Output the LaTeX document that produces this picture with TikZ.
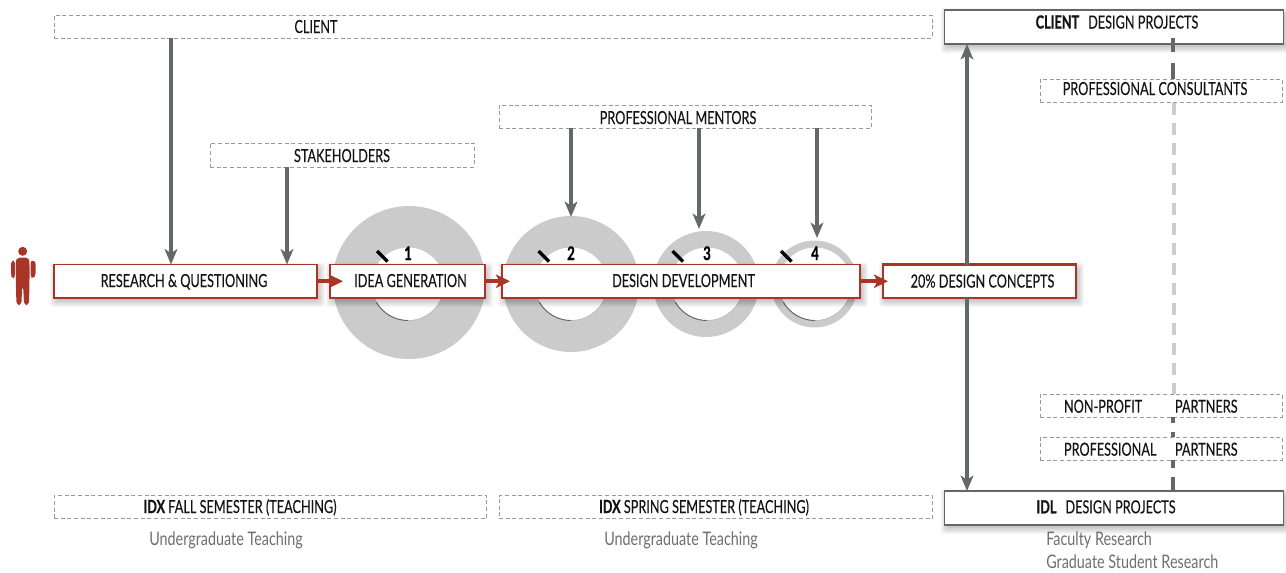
\documentclass[tikz,border=0pt]{standalone}
\usepackage{fontspec}
\setmainfont[FakeStretch=0.705,FakeBold=0.25,BoldFeatures={FakeBold=0.9}]{Lato}
\newfontfamily\notefont[FakeStretch=0.77]{Lato}
\usetikzlibrary{arrows.meta,calc}
\definecolor{brick}{HTML}{A93526}
\definecolor{arrowgray}{HTML}{666769}
\definecolor{ringgray}{HTML}{CBCBCB}
\definecolor{dashgray}{HTML}{9A9A9A}
\definecolor{lightdash}{HTML}{CCCCCC}
\definecolor{notegray}{HTML}{6E6E6E}
\tikzset{
  bx/.style={rectangle,inner sep=0pt,outer sep=0pt,anchor=north west},
  redbox/.style={bx,draw=brick,fill=white,line width=1.3pt},
  strongbox/.style={redbox,line width=2pt},
  graybox/.style={bx,draw=black!60,fill=white,line width=1pt},
  dashbox/.style={bx,draw=dashgray,dash pattern=on 3pt off 2pt,line width=.7pt},
  txt/.style={inner sep=0pt,outer sep=0pt,anchor=base,font=\fontsize{13.5}{15}\selectfont,text=black!92},
  grayarrow/.style={draw=arrowgray,line width=3.3pt,-{Stealth[length=11.5pt,width=9.5pt,inset=3pt]}},
  redarrow/.style={draw=brick,line width=2.8pt,-{Stealth[length=10.5pt,width=10pt,inset=2.5pt]}},
  ring/.style={fill=ringgray,even odd rule},
  tick/.style={draw=black,line width=2.4pt},
  ringnum/.style={inner sep=0pt,anchor=base,font=\fontsize{14}{15}\bfseries\selectfont},
  note/.style={inner sep=0pt,anchor=base west,font=\notefont\fontsize{14}{15}\selectfont,text=notegray},
  darkdash/.style={draw=arrowgray,line width=3pt},
  lightd/.style={draw=lightdash,line width=2.8pt,dash pattern=on 9pt off 6pt},
}
\newcommand{\softshade}[4]{%
  \foreach \k in {-1,...,6}{
    \fill[black,fill opacity=.03,rounded corners=2pt]
      ({#1+2-\k},{#2+4-\k}) rectangle ({#1+#3+2+\k},{#2+#4+3+\k});
  }}
\newcommand{\bxat}[5]{\node[#1,minimum width=#4*.75pt,minimum height=#5*.75pt] at (#2,#3)}
\begin{document}
\begin{tikzpicture}[x=.75pt,y=-.75pt]
\useasboundingbox (0,0) rectangle (1286,572);
% rings
\foreach \n/\cx/\oy/\r/\tx/\nx in {1/409/282.5/76.5/377/408,2/571/284/68/538.5/571,3/706/284/53/672.5/707,4/814.5/284/43.5/781/815}{
  \fill[ring] (\cx,\oy) circle[radius=\r] (\nx,284) circle[radius=36.5];
  \draw[black!30,line width=.4pt] (\nx+36.5,284) arc[start angle=0,end angle=180,radius=36.5];
  \draw[black!60,line width=.7pt] (\nx,320.5) arc[start angle=90,end angle=150,radius=36.5];
  \draw[tick] (\tx,251) -- ++(10.5,10.5);
  \node[ringnum] (num\n) at (\nx,260) {\n};
}
% person
\fill[brick] (22.7,251.3) circle[radius=4.5];
\fill[brick,rounded corners=2.5pt] (17,257.5) -- (28.5,257.5) -- (29.5,262) -- (29.5,282) -- (29,305) -- (24,305) -- (23.2,286) -- (22.2,286) -- (21.4,305) -- (16.5,305) -- (15.8,282) -- (15.8,262) -- cycle;
\fill[brick,rounded corners=2pt] (11,261) -- (15,260.5) -- (15,277) -- (13,278) -- (11,276) -- cycle;
\fill[brick,rounded corners=2pt] (30.5,260.5) -- (35.5,261) -- (35.5,276) -- (33,278) -- (30.5,277) -- cycle;
% dashed boxes
\bxat{dashbox}{54}{15}{878}{23} (client) {};
\bxat{dashbox}{210}{143}{264}{24} (stake) {};
\bxat{dashbox}{499}{105}{372}{23} (mentors) {};
\bxat{dashbox}{54}{495.5}{432.5}{23} (fall) {};
\bxat{dashbox}{499}{495.5}{433.5}{23} (spring) {};
\node[txt] (clientT) at (316,33) {CLIENT};
\node[txt] (stakeT) at (342,162) {STAKEHOLDERS};
\node[txt] (mentorsT) at (678,124) {PROFESSIONAL MENTORS};
\node[txt] (fallT) at (240,513) {\textbf{IDX} FALL SEMESTER (TEACHING)};
\node[txt] (springT) at (704,513) {\textbf{IDX} SPRING SEMESTER (TEACHING)};
% column coords
\coordinate (xa) at (171,0);
\coordinate (xb) at (287,0);
\coordinate (xc) at (571,0);
\coordinate (xd) at (699,0);
\coordinate (xe) at (817,0);
\coordinate (xf) at (967,0);
\coordinate (xg) at (1173,0);
\coordinate (xh) at (1174,0);
\coordinate (ya) at (0,217);
\coordinate (yb) at (0,229);
\coordinate (yc) at (0,238);
\coordinate (d1a) at (0,38);\coordinate (d1b) at (0,52);
\coordinate (d2a) at (0,63);
\coordinate (l1a) at (0,103);
% right hand boxes
\softshade{944.5}{10}{339}{34}
\softshade{944.5}{491}{339}{34}
\bxat{graybox}{944.5}{10}{339}{34} (cp) {};
\bxat{graybox}{944.5}{491}{339}{34} (ip) {};
\node[txt] (cpT) at (1117,28.5) {\textbf{CLIENT}\hspace{.5em}DESIGN PROJECTS};
\node[txt] (ipT) at (1106,513.3) {\textbf{IDL}\hspace{.5em}DESIGN PROJECTS};
\bxat{dashbox}{1040}{79}{242}{23} (cons) {};
\bxat{dashbox}{1040}{394}{242}{23} (np) {};
\bxat{dashbox}{1040}{437}{242}{23} (pp) {};
\node[txt] (consT) at (1155,95) {PROFESSIONAL CONSULTANTS};
\node[txt,anchor=base west] (nptext) at (1064,412.7) {NON-PROFIT};
\node[txt,anchor=base west] (nppart) at (1175,412.7) {PARTNERS};
\node[txt,anchor=base west] (pptext) at (1064,455.7) {PROFESSIONAL};
\node[txt,anchor=base west] (pppart) at (1175,455.7) {PARTNERS};
% main flow
\softshade{54}{264.5}{263}{33.5}
\softshade{330}{264.5}{155}{33.5}
\softshade{502}{264.5}{358}{33.5}
\softshade{883}{264.5}{193}{33.5}
\bxat{redbox}{54}{264.5}{263}{33.5} (rq) {};
\bxat{redbox}{330}{264.5}{155}{33.5} (idea) {};
\bxat{redbox}{502}{264.5}{358}{33.5} (dev) {};
\bxat{strongbox}{883}{264.5}{193}{33.5} (conc) {};
\node[txt] (rqT) at (184,287) {RESEARCH \& QUESTIONING};
\node[txt] (ideaT) at (410.5,287) {IDEA GENERATION};
\node[txt] (devT) at (683.5,287) {DESIGN DEVELOPMENT};
\node[txt] (concT) at (982.5,287.5) {20\% DESIGN CONCEPTS};
% connectors
\draw[grayarrow] (xa |- client.south) -- (xa |- rq.north);
\draw[grayarrow] (xb |- stake.south) -- (xb |- rq.north);
\draw[grayarrow] (xc |- mentors.south) -- (xc |- ya);
\draw[grayarrow] (xd |- mentors.south) -- (xd |- yb);
\draw[grayarrow] (xe |- mentors.south) -- (xe |- yc);
\draw[grayarrow] (xf |- conc.north) -- (xf |- cp.south);
\draw[grayarrow] (xf |- conc.south) -- (xf |- ip.north);
\draw[redarrow] (rq.east) -- (idea.west) -- ++(13,0);
\draw[redarrow] (idea.east) -- (dev.west) -- ++(8,0);
\draw[redarrow] (dev.east) -- (conc.west) -- ++(5,0);
% centre dashed spine
\draw[darkdash] (xg |- d1a) -- (xg |- d1b);
\draw[darkdash] (xg |- d2a) -- (xg |- cons.north);
\draw[lightd] (xh |- l1a) -- (xh |- np.north);
\draw[darkdash,line width=2.6pt] (xg |- np.south) -- ++(0,6);
\draw[darkdash,line width=2.6pt] (xg |- pp.north) -- ++(0,-5);
\draw[darkdash,line width=2.6pt] (xg |- pp.south) -- ++(0,8);
\draw[darkdash] (xg |- ip.north) -- ++(0,-14);
% captions
\node[note] (u1) at (149,545) {Undergraduate Teaching};
\node[note] (u2) at (604,545) {Undergraduate Teaching};
\node[note] (f1) at (1046,545) {Faculty Research};
\node[note] (f2) at (1046,568) {Graduate Student Research};
\end{tikzpicture}
\end{document}
